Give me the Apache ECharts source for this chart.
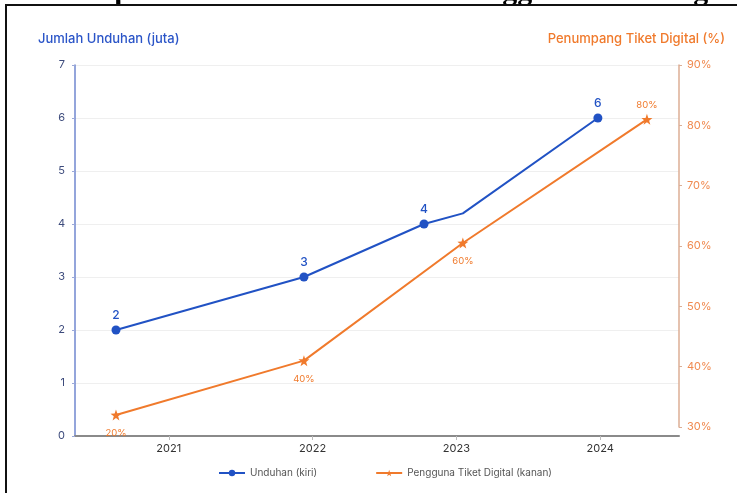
<!DOCTYPE html>
<html><head><meta charset="utf-8">
<script src="https://cdn.jsdelivr.net/npm/echarts@6/dist/echarts.min.js"></script>
<style>html,body{margin:0;padding:0;background:#fff}#c{width:737px;height:493px}</style>
</head><body><div id="c"></div>
<script>
const yearTicks = [2021, 2022, 2023, 2024];
const unduhanX = [2020.633, 2021.94, 2022.775, 2023.045, 2023.984];
const unduhanY = [2, 3, 4, 4.2, 6];
const unduhanLabels = ['2', '3', '4', '', '6'];
const tiketX = [2020.633, 2021.94, 2023.045, 2024.325];
const tiketY = [32, 41, 60.5, 81];
const tiketLabels = ['20%', '40%', '60%', '80%'];
const leftName = 'Jumlah Unduhan (juta)';
const rightName = 'Penumpang Tiket Digital (%)';
const seriesNames = ['Unduhan (kiri)', 'Pengguna Tiket Digital (kanan)'];
const titleText = 'Tren Unduhan Aplikasi Kereta Listrik dan Pengguna Tiket Digital';

const BLUE = '#2152c4', ORANGE = '#f07a2c';
const FONT = 'Inter, "Noto Sans", sans-serif';
const STAR = 'path://M0,-10 L2.35,-3.24 L9.51,-3.09 L3.8,1.24 L5.88,8.09 L0,4 L-5.88,8.09 L-3.8,1.24 L-9.51,-3.09 L-2.35,-3.24 Z';
const XMIN = 2020.348, XMAX = 2024.548;

const chart = echarts.init(document.getElementById('c'), null, {renderer: 'canvas'});
chart.setOption({
  backgroundColor: '#fff',
  animation: false,
  textStyle: {fontFamily: FONT},
  graphic: [
    {type: 'text', left: -103, top: -23, silent: true,
     style: {text: titleText, font: 'bold 30px "Liberation Serif"', fill: '#000'}},
    {type: 'rect', shape: {x: 6, y: 5, width: 800, height: 600}, silent: true,
     style: {fill: 'none', stroke: '#111', lineWidth: 2}}
  ],
  grid: [
    {left: 75, right: 58, top: 65, bottom: 57},
    {left: 75, right: 58, top: 65, bottom: 66}
  ],
  legend: {
    left: 213, top: 463, itemGap: 58, itemWidth: 26, itemHeight: 8,
    textStyle: {fontSize: 10, color: '#555', fontFamily: FONT},
    data: seriesNames
  },
  xAxis: [
    {type: 'value', gridIndex: 0, min: XMIN, max: XMAX,
     axisLine: {lineStyle: {color: '#8a8a8a', width: 2}},
     axisTick: {show: true, customValues: yearTicks, length: 4, lineStyle: {color: '#bbb'}},
     axisLabel: {customValues: yearTicks, color: '#333', fontSize: 11, margin: 7, fontFamily: FONT,
       formatter: v => String(v)},
     splitLine: {show: false}},
    {type: 'value', gridIndex: 1, min: XMIN, max: XMAX, show: false, splitLine: {show: false}}
  ],
  yAxis: [
    {type: 'value', gridIndex: 0, min: 0, max: 7, interval: 1,
     name: leftName, nameLocation: 'end', nameGap: 19,
     nameTextStyle: {color: '#2b55c8', fontSize: 13, fontWeight: 500, align: 'left', padding: [0, 0, 0, -37], fontFamily: FONT},
     axisLine: {show: true, lineStyle: {color: '#7087cf', width: 1.5}},
     axisTick: {show: true, length: 3, lineStyle: {color: '#9aa8d8'}},
     axisLabel: {color: '#3d4b7c', fontSize: 11, margin: 10, fontFamily: FONT},
     splitLine: {show: true, lineStyle: {color: '#efefef', width: 1}}},
    {type: 'value', gridIndex: 1, min: 30, max: 90, interval: 10, position: 'right',
     name: rightName, nameLocation: 'end', nameGap: 19,
     nameTextStyle: {color: ORANGE, fontSize: 13, fontWeight: 500, align: 'right', padding: [0, -46, 0, 0], fontFamily: FONT},
     axisLine: {show: true, lineStyle: {color: '#dcae95', width: 1.5}},
     axisTick: {show: true, length: 3, lineStyle: {color: '#dcae95'}},
     axisLabel: {color: '#f08a50', fontSize: 11, margin: 8, formatter: '{value}%', fontFamily: FONT},
     splitLine: {show: false}}
  ],
  series: [
    {name: seriesNames[0], type: 'line', xAxisIndex: 0, yAxisIndex: 0,
     symbol: 'circle', symbolSize: 9,
     lineStyle: {color: BLUE, width: 2}, itemStyle: {color: BLUE},
     label: {show: true, position: 'top', distance: 4, color: BLUE, fontSize: 12, fontWeight: 500,
       formatter: p => unduhanLabels[p.dataIndex]},
     data: unduhanX.map((x, i) => unduhanLabels[i] === '' ? {value: [x, unduhanY[i]], symbol: 'none'} : [x, unduhanY[i]])},
    {name: seriesNames[1], type: 'line', xAxisIndex: 1, yAxisIndex: 1,
     symbol: STAR, symbolSize: 11,
     lineStyle: {color: ORANGE, width: 2}, itemStyle: {color: ORANGE},
     label: {show: true, position: 'bottom', distance: 8, color: ORANGE, fontSize: 9.5,
       formatter: p => tiketLabels[p.dataIndex]},
     data: tiketX.map((x, i) => i === tiketX.length - 1
       ? {value: [x, tiketY[i]], label: {position: 'top', distance: 4}}
       : [x, tiketY[i]])}
  ]
});
</script></body></html>
